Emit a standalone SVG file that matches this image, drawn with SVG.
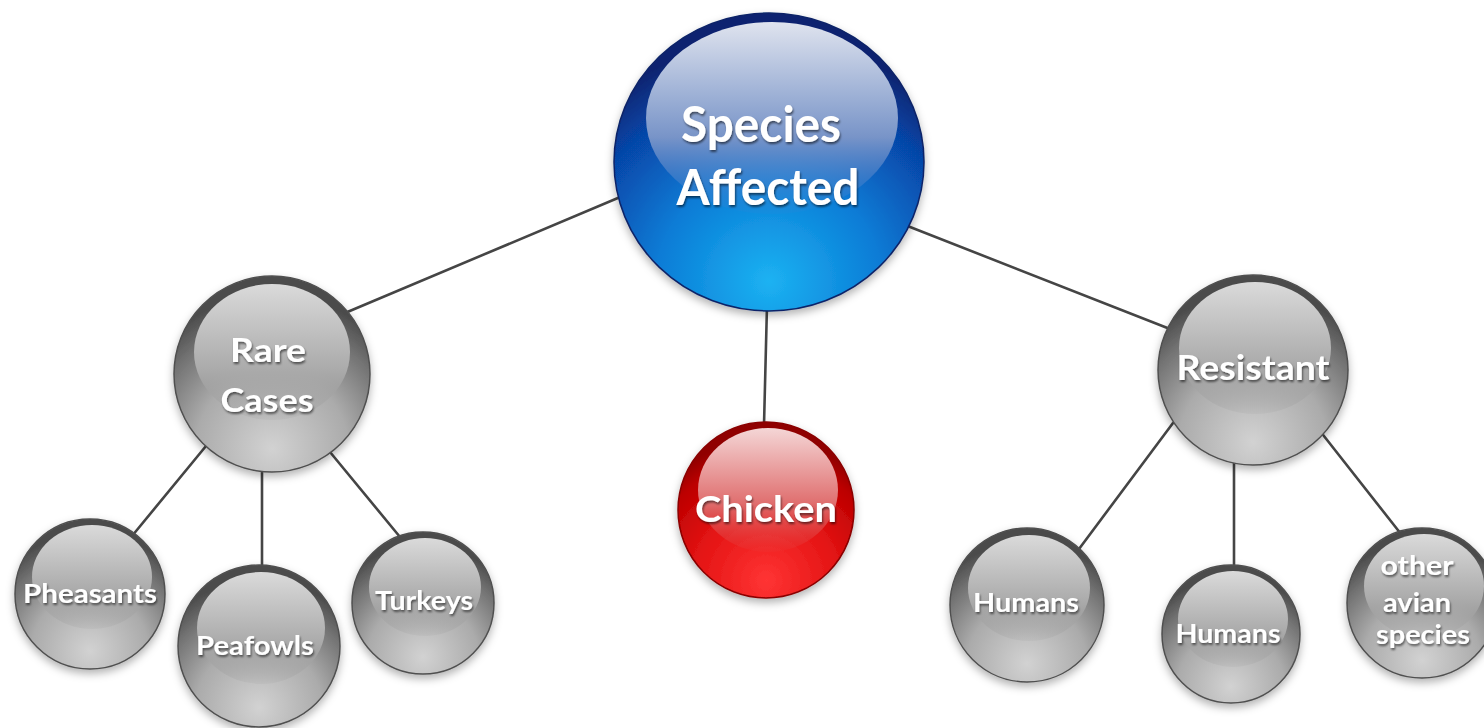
<svg xmlns="http://www.w3.org/2000/svg" width="1484" height="728" viewBox="0 0 1484 728">
<style>
.lbl{font-family:Lato,"Liberation Sans",sans-serif;font-weight:700;fill:#ffffff;text-anchor:middle;filter:url(#tsh)}
.conn line{stroke:#454545;stroke-width:2.6;stroke-linecap:round}
.rim{stroke-width:1.5}
.gray .ball{fill:url(#gOuter);stroke:#505050}
.gray .hl{fill:url(#gHl)}
.blue .ball{fill:url(#bOuter);stroke:#0a2468}
.blue .hl{fill:url(#bHl)}
.red .ball{fill:url(#rOuter);stroke:#8a0000}
.red .hl{fill:url(#rHl)}
.ball{filter:url(#bsh)}
</style>
<defs>
<filter id="bsh" x="-20%" y="-20%" width="140%" height="150%">
<feDropShadow dx="0" dy="4" stdDeviation="4" flood-color="#000" flood-opacity="0.3"/>
</filter>
<filter id="tsh" x="-10%" y="-20%" width="120%" height="160%">
<feDropShadow dx="1" dy="2" stdDeviation="1.2" flood-color="#000" flood-opacity="0.55"/>
</filter>
<radialGradient id="gOuter" cx="0.5" cy="0.88" r="0.78">
<stop offset="0" stop-color="#d2d2d2"/>
<stop offset="0.5" stop-color="#ababab"/>
<stop offset="0.82" stop-color="#727272"/>
<stop offset="1" stop-color="#4c4c4c"/>
</radialGradient>
<linearGradient id="gHl" x1="0" y1="0" x2="0" y2="1">
<stop offset="0" stop-color="#dadada"/>
<stop offset="0.65" stop-color="#a9a9a9"/>
<stop offset="1" stop-color="#9c9c9c" stop-opacity="0.15"/>
</linearGradient>
<radialGradient id="bOuter" cx="0.5" cy="0.9" r="0.8">
<stop offset="0" stop-color="#1cb2f2"/>
<stop offset="0.45" stop-color="#0a7cd6"/>
<stop offset="0.8" stop-color="#0646a8"/>
<stop offset="1" stop-color="#0a2470"/>
</radialGradient>
<linearGradient id="bHl" x1="0" y1="0" x2="0" y2="1">
<stop offset="0" stop-color="#dfe3ee"/>
<stop offset="0.6" stop-color="#7894c8"/>
<stop offset="1" stop-color="#3f7fcf" stop-opacity="0.1"/>
</linearGradient>
<radialGradient id="rOuter" cx="0.5" cy="0.9" r="0.8">
<stop offset="0" stop-color="#ff3434"/>
<stop offset="0.5" stop-color="#e41414"/>
<stop offset="0.85" stop-color="#bc0000"/>
<stop offset="1" stop-color="#900000"/>
</radialGradient>
<linearGradient id="rHl" x1="0" y1="0" x2="0" y2="1">
<stop offset="0" stop-color="#f4d6d6"/>
<stop offset="0.6" stop-color="#e07070"/>
<stop offset="1" stop-color="#e04848" stop-opacity="0.1"/>
</linearGradient>
</defs>
<rect width="1484" height="728" fill="#ffffff"/>
<g id="connectors" class="conn">
<line x1="625" y1="195" x2="345" y2="313"/>
<line x1="905" y1="225" x2="1170" y2="329"/>
<line x1="767" y1="305" x2="764" y2="425"/>
<line x1="206" y1="446" x2="132" y2="536"/>
<line x1="262" y1="468" x2="262" y2="568"/>
<line x1="330" y1="452" x2="400" y2="537"/>
<line x1="1173" y1="423" x2="1079" y2="549"/>
<line x1="1234" y1="460" x2="1234" y2="568"/>
<line x1="1320" y1="431" x2="1401" y2="534"/>
</g>
<g id="node-species" class="blue">
<ellipse class="ball rim" cx="769" cy="162" rx="155" ry="149"/>
<ellipse class="hl" cx="772" cy="118" rx="126" ry="96"/>
<text class="lbl" x="761" y="142" font-size="50" textLength="160" lengthAdjust="spacingAndGlyphs">Species</text>
<text class="lbl" x="768" y="205" font-size="50" textLength="183" lengthAdjust="spacingAndGlyphs">Affected</text>
</g>
<g id="node-rare" class="gray">
<circle class="ball rim" cx="272" cy="374" r="98"/>
<ellipse class="hl" cx="272" cy="352" rx="78" ry="68"/>
<text class="lbl" x="268" y="362" font-size="32" textLength="76" lengthAdjust="spacingAndGlyphs">Rare</text>
<text class="lbl" x="267" y="412" font-size="32" textLength="93" lengthAdjust="spacingAndGlyphs">Cases</text>
</g>
<g id="node-chicken" class="red">
<circle class="ball rim" cx="766" cy="510" r="88"/>
<ellipse class="hl" cx="768" cy="490" rx="70" ry="62"/>
<text class="lbl" x="766" y="522" font-size="37" textLength="142" lengthAdjust="spacingAndGlyphs">Chicken</text>
</g>
<g id="node-resistant" class="gray">
<circle class="ball rim" cx="1253" cy="370" r="95"/>
<ellipse class="hl" cx="1255" cy="348" rx="76" ry="66"/>
<text class="lbl" x="1253" y="380" font-size="35" textLength="153" lengthAdjust="spacingAndGlyphs">Resistant</text>
</g>
<g id="node-pheasants" class="gray">
<circle class="ball rim" cx="90" cy="594" r="75"/>
<ellipse class="hl" cx="92" cy="577" rx="60" ry="52"/>
<text class="lbl" x="90" y="603" font-size="26" textLength="134" lengthAdjust="spacingAndGlyphs">Pheasants</text>
</g>
<g id="node-peafowls" class="gray">
<circle class="ball rim" cx="259" cy="646" r="81"/>
<ellipse class="hl" cx="261" cy="628" rx="64" ry="56"/>
<text class="lbl" x="255" y="655" font-size="26" textLength="118" lengthAdjust="spacingAndGlyphs">Peafowls</text>
</g>
<g id="node-turkeys" class="gray">
<circle class="ball rim" cx="423" cy="603" r="71"/>
<ellipse class="hl" cx="425" cy="587" rx="56" ry="49"/>
<text class="lbl" x="424" y="610" font-size="26" textLength="98" lengthAdjust="spacingAndGlyphs">Turkeys</text>
</g>
<g id="node-humans1" class="gray">
<circle class="ball rim" cx="1027" cy="605" r="77"/>
<ellipse class="hl" cx="1029" cy="588" rx="61" ry="53"/>
<text class="lbl" x="1026" y="612" font-size="26" textLength="106" lengthAdjust="spacingAndGlyphs">Humans</text>
</g>
<g id="node-humans2" class="gray">
<circle class="ball rim" cx="1231" cy="634" r="69"/>
<ellipse class="hl" cx="1233" cy="619" rx="55" ry="48"/>
<text class="lbl" x="1228" y="643" font-size="26" textLength="105" lengthAdjust="spacingAndGlyphs">Humans</text>
</g>
<g id="node-other" class="gray">
<circle class="ball rim" cx="1422" cy="603" r="75"/>
<ellipse class="hl" cx="1424" cy="586" rx="60" ry="52"/>
<text class="lbl" x="1417" y="575" font-size="26" textLength="73" lengthAdjust="spacingAndGlyphs">other</text>
<text class="lbl" x="1417" y="612" font-size="26" textLength="68" lengthAdjust="spacingAndGlyphs">avian</text>
<text class="lbl" x="1423" y="644" font-size="26" textLength="94" lengthAdjust="spacingAndGlyphs">species</text>
</g>
</svg>
